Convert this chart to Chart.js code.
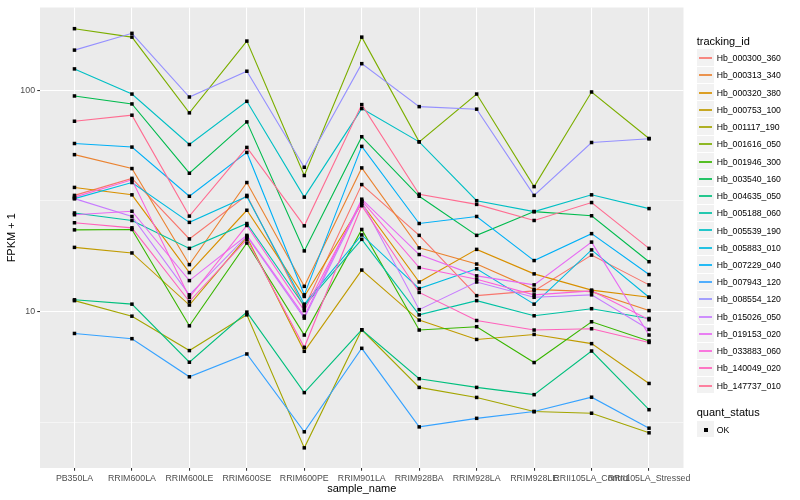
<!DOCTYPE html>
<html><head><meta charset="utf-8">
<script src="https://cdn.jsdelivr.net/npm/chart.js@4.4.0/dist/chart.umd.min.js"></script>
<style>
html,body{margin:0;padding:0;background:#fff;}
#wrap{position:relative;width:800px;height:500px;overflow:hidden;font-family:"Liberation Sans",Arial,Helvetica,sans-serif;}
canvas{position:absolute;left:0;top:0;}
.lg{position:absolute;white-space:nowrap;color:#000;}
</style></head><body>
<div id="wrap"><canvas id="c" width="800" height="500"></canvas><div id="legend"></div></div>
<script>
const categories = ["PB350LA","RRIM600LA","RRIM600LE","RRIM600SE","RRIM600PE","RRIM901LA","RRIM928BA","RRIM928LA","RRIM928LE","RRII105LA_Control","RRII105LA_Stressed"];
const trackingIds = ["Hb_000300_360","Hb_000313_340","Hb_000320_380","Hb_000753_100","Hb_001117_190","Hb_001616_050","Hb_001946_300","Hb_003540_160","Hb_004635_050","Hb_005188_060","Hb_005539_190","Hb_005883_010","Hb_007229_040","Hb_007943_120","Hb_008554_120","Hb_015026_050","Hb_019153_020","Hb_033883_060","Hb_140049_020","Hb_147737_010"];
const seriesColors = ["#F8766D","#EA8331","#D89000","#C09B00","#A3A500","#7CAE00","#39B600","#00BB4E","#00BF7D","#00C1A3","#00BFC4","#00BAE0","#00B0F6","#35A2FF","#9590FF","#C77CFF","#E76BF3","#FA62DB","#FF62BC","#FF6C91"];

// FPKM + 1 per sample (same order as categories)
const hb000300_360 = [33.5, 40.0, 21.3, 33.5, 10.4, 37.5, 22.1, 11.8, 12.4, 18.0, 13.2];
const hb000313_340 = [51.2, 44.3, 16.3, 38.3, 13.0, 44.6, 19.4, 16.4, 12.6, 12.3, 10.1];
const hb000320_380 = [36.4, 33.7, 15.0, 28.7, 11.7, 30.8, 13.6, 19.1, 14.8, 12.5, 11.6];
const hb000753_100 = [19.5, 18.4, 10.7, 21.7, 6.61, 15.4, 9.15, 7.48, 7.88, 7.16, 4.73];
const hb001117_190 = [11.2, 9.53, 6.66, 9.66, 2.42, 8.27, 4.54, 4.09, 3.53, 3.47, 2.83];
const hb001616_050 = [190, 174, 79.1, 167, 41.2, 174, 58.5, 96.2, 36.7, 98.3, 60.6];
const hb001946_300 = [23.4, 23.5, 8.62, 20.4, 7.83, 23.5, 8.25, 8.54, 5.88, 8.99, 7.36];
const hb003540_160 = [94.3, 86.8, 42.2, 72.0, 18.8, 61.7, 33.2, 22.1, 28.3, 27.1, 16.8];
const hb004635_050 = [11.3, 10.8, 5.90, 9.94, 4.30, 8.27, 4.97, 4.54, 4.21, 6.63, 3.60];
const hb005188_060 = [27.9, 25.8, 19.3, 25.0, 10.6, 21.2, 9.66, 11.2, 9.57, 10.3, 9.30];
const hb005539_190 = [125, 96.2, 56.9, 89.2, 32.9, 82.7, 58.5, 31.7, 28.3, 33.7, 29.2];
const hb005883_010 = [32.4, 38.3, 25.3, 33.1, 10.8, 22.2, 12.7, 15.6, 10.8, 19.0, 11.6];
const hb007229_040 = [57.5, 55.4, 33.2, 52.4, 11.9, 55.8, 25.0, 26.9, 17.0, 22.5, 14.7];
const hb007943_120 = [7.96, 7.54, 5.07, 6.43, 2.86, 6.82, 3.01, 3.29, 3.53, 4.10, 2.97];
const hb008554_120 = [152, 181, 93.3, 122, 44.9, 132, 84.4, 82.2, 33.5, 58.1, 60.4];
const hb015026_050 = [32.4, 26.9, 11.9, 21.9, 9.34, 31.4, 10.2, 13.6, 11.6, 11.9, 8.30];
const hb019153_020 = [27.4, 28.4, 13.8, 22.1, 9.53, 32.2, 18.1, 14.5, 13.2, 20.6, 7.83];
const hb033883_060 = [32.9, 39.4, 11.6, 24.5, 10.1, 31.7, 15.8, 14.0, 11.9, 12.4, 9.18];
const hb140049_020 = [25.2, 23.9, 11.1, 21.2, 6.89, 30.1, 12.2, 9.11, 8.25, 8.36, 7.25];
const hb147737_010 = [72.5, 77.2, 27.0, 55.2, 24.4, 86.2, 33.9, 30.5, 25.8, 31.1, 19.3];

const seriesValues = [hb000300_360, hb000313_340, hb000320_380, hb000753_100, hb001117_190, hb001616_050, hb001946_300, hb003540_160, hb004635_050, hb005188_060, hb005539_190, hb005883_010, hb007229_040, hb007943_120, hb008554_120, hb015026_050, hb019153_020, hb033883_060, hb140049_020, hb147737_010];

const yTickValues = [10, 100];
const yTickLabels = ["10", "100"];
const yMinorValues = [3.1623, 31.623];
const quantStatus = ["OK"];

const FONT = '"Liberation Sans", Arial, Helvetica, sans-serif';
const N = seriesValues.length;

const panelBg = {
  id: 'panelBg',
  beforeDraw(chart) {
    const {ctx, chartArea: a} = chart;
    ctx.save();
    ctx.fillStyle = '#FFFFFF';
    ctx.fillRect(0, 0, chart.width, chart.height);
    ctx.fillStyle = '#EBEBEB';
    ctx.fillRect(a.left, a.top, a.right - a.left, a.bottom - a.top);
    ctx.restore();
  }
};
const pointsOnTop = {
  id: 'pointsOnTop',
  afterDatasetsDraw(chart) {
    const ctx = chart.ctx;
    ctx.save();
    ctx.fillStyle = '#000000';
    chart.data.datasets.forEach((ds, i) => {
      chart.getDatasetMeta(i).data.forEach(el => {
        ctx.fillRect(el.x - 1.75, el.y - 1.75, 3.5, 3.5);
      });
    });
    ctx.restore();
  }
};

const isMajor = v => yTickValues.indexOf(v) >= 0;

new Chart(document.getElementById('c'), {
  type: 'line',
  data: {
    datasets: seriesValues.map((vals, i) => ({
      label: trackingIds[i],
      data: vals.map((v, j) => ({x: j, y: v})),
      borderColor: seriesColors[i],
      backgroundColor: seriesColors[i],
      borderWidth: 1.1,
      pointRadius: 0,
      pointHoverRadius: 0,
      tension: 0,
      fill: false,
      order: N - i
    }))
  },
  options: {
    responsive: false,
    devicePixelRatio: 1,
    animation: false,
    events: [],
    layout: {padding: {top: 5, right: 116.5, bottom: 0, left: 0}},
    plugins: {legend: {display: false}, tooltip: {enabled: false}, title: {display: false}},
    scales: {
      x: {
        type: 'linear',
        min: -0.6,
        max: categories.length - 1 + 0.6,
        afterBuildTicks: s => { s.ticks = categories.map((c, i) => ({value: i})); },
        afterFit: s => { s.height = 32; },
        ticks: {
          autoSkip: false, maxRotation: 0, minRotation: 0, padding: 2.2,
          color: '#4D4D4D', font: {family: FONT, size: 8.8},
          callback: v => (categories[v] !== undefined ? categories[v] : '')
        },
        grid: {color: '#FFFFFF', lineWidth: 1.07, tickLength: 2.75, tickColor: '#333333', drawTicks: true},
        border: {display: false},
        title: {display: true, text: 'sample_name', color: '#000000', font: {family: FONT, size: 11}, padding: {top: 0, bottom: 4.7}}
      },
      y: {
        type: 'logarithmic',
        min: 1.962,
        max: 236.9,
        afterBuildTicks: s => {
          s.ticks = yMinorValues.concat(yTickValues).sort((a, b) => a - b).map(v => ({value: v}));
        },
        afterFit: s => { s.width = 40; },
        ticks: {
          autoSkip: false, padding: 2.2, color: '#4D4D4D', font: {family: FONT, size: 8.8},
          callback: v => { const k = yTickValues.indexOf(v); return k >= 0 ? yTickLabels[k] : ''; }
        },
        grid: {
          color: '#FFFFFF',
          lineWidth: c => (c.tick && isMajor(c.tick.value)) ? 1.07 : 0.53,
          tickLength: 2.75,
          tickColor: c => (c.tick && isMajor(c.tick.value)) ? '#333333' : 'rgba(0,0,0,0)',
          drawTicks: true
        },
        border: {display: false},
        title: {display: true, text: 'FPKM + 1', color: '#000000', font: {family: FONT, size: 11}, padding: {top: 5.4, bottom: 0}}
      }
    }
  },
  plugins: [panelBg, pointsOnTop]
});

// Legend (HTML text)
(function () {
  const lg = document.getElementById('legend');
  const add = (html, style) => { const d = document.createElement('div'); d.className = 'lg'; d.style.cssText = style; d.innerHTML = html; lg.appendChild(d); return d; };
  const keyLeft = 697, keyW = 17, keyH = 17.24, textLeft = 716.7;
  add('tracking_id', `left:696.7px;top:${40.7 - 7}px;height:14px;line-height:14px;font-size:11px;`);
  trackingIds.forEach((id, i) => {
    const cy = 58.1 + keyH * i;
    const top = Math.round(cy - keyH / 2);
    const bot = Math.round(cy + keyH / 2);
    add('', `left:${keyLeft}px;top:${top}px;width:${keyW}px;height:${bot - top - 1}px;background:#F2F2F2;`);
    add('', `left:${keyLeft + 2}px;top:${Math.round(cy) - 1}px;width:${keyW - 4}px;height:2px;background:${seriesColors[i]};opacity:0.85;`);
    add(id, `left:${textLeft}px;top:${cy - 6}px;height:12px;line-height:12px;font-size:8.7px;`);
  });
  add('quant_status', `left:696.7px;top:${412.3 - 7}px;height:14px;line-height:14px;font-size:11px;`);
  quantStatus.forEach((q, i) => {
    const cy = 429.5 + keyH * i;
    const top = Math.round(cy - keyH / 2);
    add('', `left:${keyLeft}px;top:${top}px;width:${keyW}px;height:16px;background:#F2F2F2;`);
    add('', `left:${keyLeft + 7}px;top:${Math.round(cy) - 2}px;width:4px;height:4px;background:#000;`);
    add(q, `left:${textLeft}px;top:${cy - 6}px;height:12px;line-height:12px;font-size:8.7px;`);
  });
})();
</script>
</body></html>
